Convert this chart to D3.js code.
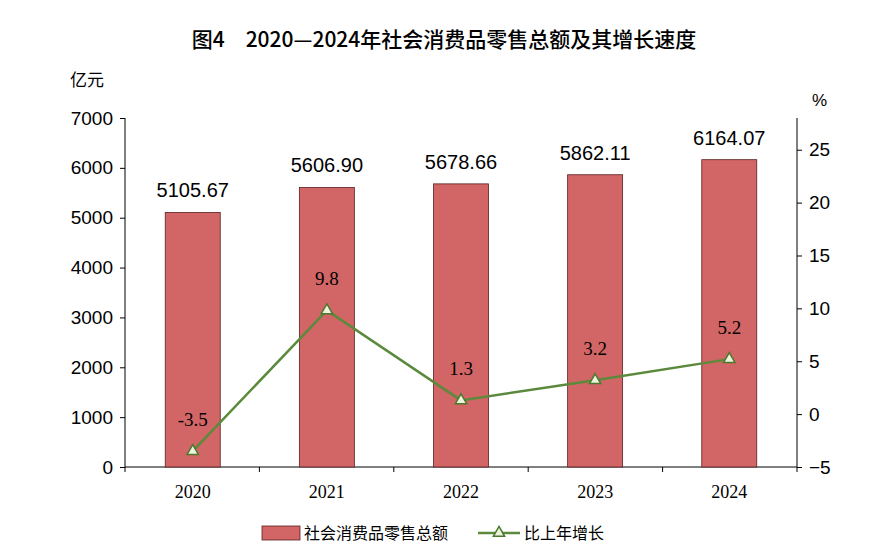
<!DOCTYPE html>
<html><head><meta charset="utf-8">
<script src="https://cdn.jsdelivr.net/npm/d3@7"></script>
<style>body{margin:0;background:#fff}</style>
</head><body>
<svg id="c" width="888" height="558"></svg>
<script>
var years = ["2020", "2021", "2022", "2023", "2024"];
var sales = [5105.67, 5606.90, 5678.66, 5862.11, 6164.07];
var growth = [-3.5, 9.8, 1.3, 3.2, 5.2];
var leftTicks = [0, 1000, 2000, 3000, 4000, 5000, 6000, 7000];
var rightTicks = [-5, 0, 5, 10, 15, 20, 25];

var svg = d3.select("#c");
var L = 125, R = 797, T = 118, B = 467;
var x = d3.scaleBand().domain(years).range([L, R]).paddingInner(0.59).paddingOuter(0.3);
var y = d3.scaleLinear().domain([0, 7000]).range([B, T]);
var y2 = d3.scaleLinear().domain([-5, 28]).range([B, T]);
var sans = "Arial, 'Liberation Sans', sans-serif";
var serif = "'Times New Roman', 'Liberation Serif', serif";
var cjk = "'Noto Sans CJK SC', sans-serif";

svg.append("text").attr("x", 444).attr("y", 47).attr("text-anchor", "middle")
  .attr("font-family", cjk).attr("font-size", 21).attr("font-weight", 500)
  .text("图4　2020—2024年社会消费品零售总额及其增长速度");
svg.append("text").attr("x", 70).attr("y", 86).attr("font-family", cjk).attr("font-size", 17).text("亿元");
svg.append("text").attr("x", 812).attr("y", 106).attr("font-family", sans).attr("font-size", 17).text("%");

var ga = svg.append("g").attr("transform", "translate(" + L + ",0)")
  .call(d3.axisLeft(y).tickValues(leftTicks).tickSize(5).tickFormat(d3.format("d")));
var gb = svg.append("g").attr("transform", "translate(" + R + ",0)")
  .call(d3.axisRight(y2).tickValues(rightTicks).tickSize(5).tickFormat(d3.format("d")));
[ga, gb].forEach(function (g) {
  g.selectAll("text").attr("font-family", sans).attr("font-size", 19).attr("fill", "#000");
  g.selectAll("line,path").attr("stroke", "#000");
});
ga.selectAll("text").attr("x", -12);
gb.selectAll("text").attr("x", 12);
gb.select(".domain").attr("d", "M0," + T + "V" + B);
ga.select(".domain").attr("d", "M0," + T + "V" + B);

var gx = svg.append("g").attr("transform", "translate(0," + B + ")")
  .call(d3.axisBottom(x).tickSize(0).tickPadding(18));
gx.select(".domain").attr("d", "M" + L + ",0H" + R).attr("stroke", "#000");
gx.selectAll("text").attr("font-family", serif).attr("font-size", 18).attr("fill", "#000");
svg.append("g").selectAll("line").data(d3.range(6)).join("line")
  .attr("x1", function (i) { return L + i * (R - L) / 5; })
  .attr("x2", function (i) { return L + i * (R - L) / 5; })
  .attr("y1", B).attr("y2", B + 5).attr("stroke", "#000");

svg.append("g").selectAll("rect").data(sales).join("rect")
  .attr("x", function (d, i) { return x(years[i]); }).attr("width", x.bandwidth())
  .attr("y", function (d) { return y(d); }).attr("height", function (d) { return B - y(d); })
  .attr("fill", "#d26565").attr("stroke", "#5a2020").attr("stroke-width", 0.8);
svg.append("g").selectAll("text").data(sales).join("text")
  .attr("x", function (d, i) { return x(years[i]) + x.bandwidth() / 2; })
  .attr("y", function (d) { return y(d) - 15; }).attr("text-anchor", "middle")
  .attr("font-family", sans).attr("font-size", 20).text(function (d) { return d.toFixed(2); });

var cx = function (d, i) { return x(years[i]) + x.bandwidth() / 2; };
svg.append("path").datum(growth)
  .attr("d", d3.line().x(cx).y(function (d) { return y2(d); }))
  .attr("fill", "none").attr("stroke", "#5b8a3c").attr("stroke-width", 2.5);
svg.append("g").selectAll("path").data(growth).join("path")
  .attr("transform", function (d, i) { return "translate(" + cx(d, i) + "," + y2(d) + ")"; })
  .attr("d", d3.symbol(d3.symbolTriangle, 55))
  .attr("fill", "#eef3e0").attr("stroke", "#4a7a2c").attr("stroke-width", 1.5);
svg.append("g").selectAll("text").data(growth).join("text")
  .attr("x", cx).attr("y", function (d) { return y2(d) - 25; }).attr("text-anchor", "middle")
  .attr("font-family", serif).attr("font-size", 19).text(function (d) { return d.toFixed(1); });

var lg = svg.append("g").attr("transform", "translate(0,533)");
lg.append("rect").attr("x", 262).attr("y", -7).attr("width", 38).attr("height", 14)
  .attr("fill", "#d26565").attr("stroke", "#5a2020").attr("stroke-width", 0.8);
lg.append("text").attr("x", 304).attr("y", 6).attr("font-family", cjk).attr("font-size", 16).text("社会消费品零售总额");
lg.append("line").attr("x1", 478).attr("x2", 520).attr("y1", 0).attr("y2", 0)
  .attr("stroke", "#5b8a3c").attr("stroke-width", 2.5);
lg.append("path").attr("transform", "translate(499,0)").attr("d", d3.symbol(d3.symbolTriangle, 55))
  .attr("fill", "#eef3e0").attr("stroke", "#4a7a2c").attr("stroke-width", 1.5);
lg.append("text").attr("x", 524).attr("y", 6).attr("font-family", cjk).attr("font-size", 16).text("比上年增长");
</script>
</body></html>
